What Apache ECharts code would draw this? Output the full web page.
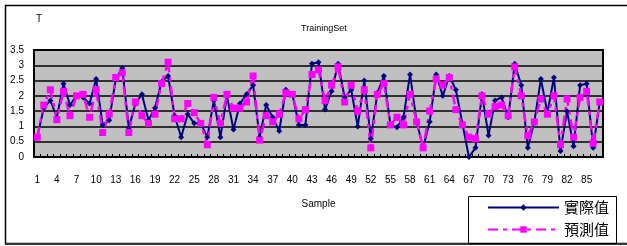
<!DOCTYPE html>
<html>
<head>
<meta charset="utf-8">
<script src="https://cdn.jsdelivr.net/npm/echarts@6/dist/echarts.min.js"></script>
<style>
  html, body { margin: 0; padding: 0; background: #fff; }
  #chart { width: 627px; height: 246px; }
</style>
</head>
<body>
<div id="chart"></div>
<script>
// 样本编号 1..87
const samples = []
for (let i = 1; i <= 87; i++) samples.push(String(i))

// 實際值
const actual = [
  0.65, 1.6, 1.85, 1.3, 2.4, 1.7, 2.0, 1.95, 1.75, 2.55,
  1.05, 1.2, 2.55, 2.9, 0.95, 1.75, 2.05, 1.2, 1.6, 2.45,
  2.65, 1.35, 0.65, 1.4, 1.1, 1.1, 0.65, 1.85, 0.65, 2.0,
  0.9, 1.75, 2.05, 2.35, 0.65, 1.7, 1.3, 0.85, 2.2, 2.05,
  1.05, 1.05, 3.05, 3.1, 1.55, 2.15, 3.05, 1.95, 2.2, 1.0,
  2.5, 0.6, 2.1, 2.65, 1.05, 0.97, 1.3, 2.7, 1.15, 0.3,
  1.15, 2.7, 2.0, 2.65, 2.2, 1.1, 0.0, 0.3, 2.05, 0.7,
  1.85, 1.95, 1.3, 3.05, 2.35, 0.3, 1.15, 2.55, 1.45, 2.6,
  0.2, 1.5, 0.35, 2.35, 2.4, 0.3, 1.8
]

// 預測值
const predicted = [
  0.65, 1.7, 2.2, 1.22, 2.15, 1.35, 2.0, 2.05, 1.3, 2.2,
  0.8, 1.4, 2.6, 2.75, 0.8, 1.8, 1.35, 1.1, 1.4, 2.4,
  3.1, 1.25, 1.25, 1.75, 1.45, 1.1, 0.4, 1.95, 1.1, 2.05,
  1.6, 1.6, 1.8, 2.65, 0.55, 1.35, 1.15, 1.4, 2.1, 2.05,
  1.25, 1.55, 2.7, 2.85, 1.85, 2.35, 2.95, 1.8, 2.35, 1.5,
  2.2, 0.3, 2.05, 2.4, 1.05, 1.3, 1.05, 2.05, 1.15, 0.3,
  1.5, 2.55, 2.35, 2.6, 1.55, 1.05, 0.65, 0.6, 2.0, 1.4,
  1.65, 1.7, 1.35, 2.95, 2.0, 0.7, 1.15, 1.9, 1.4, 2.0,
  0.4, 1.9, 0.65, 1.95, 2.15, 0.45, 1.8
]

const myChart = echarts.init(document.getElementById('chart'))

const option = {
  animation: false,
  textStyle: { fontFamily: 'Liberation Sans, Arial, sans-serif' },
  title: {
    text: 'TrainingSet',
    left: 296,
    top: 19,
    textStyle: { fontSize: 9, fontWeight: 'normal', color: '#000' }
  },
  legend: {
    orient: 'vertical',
    left: 487,
    top: 200,
    padding: 0,
    itemWidth: 71,
    itemHeight: 8,
    itemGap: 7,
    textStyle: {
      fontSize: 15,
      color: '#000',
      fontFamily: 'Noto Sans CJK TC, sans-serif'
    },
    data: ['實際值', '預測值']
  },
  graphic: [
    // 外框
    {
      type: 'polyline',
      shape: { points: [[627, 5.5], [5.5, 5.5], [5.5, 243.5], [627, 243.5]] },
      style: { stroke: '#000', lineWidth: 1.5, fill: null },
      silent: true
    },
    {
      type: 'line',
      shape: { x1: 5, y1: 244, x2: 627, y2: 244 },
      style: { stroke: '#333', lineWidth: 2 },
      silent: true
    },
    // 图例框
    {
      type: 'rect',
      shape: { x: 468.5, y: 196.5, width: 148, height: 47 },
      style: { stroke: '#000', lineWidth: 1, fill: null },
      silent: true
    }
  ],
  grid: {
    left: 34,
    right: 24,
    top: 50,
    bottom: 89,
    show: true,
    backgroundColor: '#c0c0c0',
    borderColor: '#000',
    borderWidth: 2
  },
  xAxis: {
    type: 'category',
    data: samples,
    boundaryGap: true,
    name: 'Sample',
    nameLocation: 'middle',
    nameGap: 42,
    nameTextStyle: { fontSize: 10, color: '#000' },
    axisLine: { lineStyle: { color: '#000', width: 2 } },
    axisTick: {
      show: true,
      inside: true,
      length: 3,
      interval: 0,
      lineStyle: { color: '#000', width: 1 }
    },
    axisLabel: {
      interval: 2,
      margin: 18,
      fontSize: 10,
      color: '#000'
    },
    splitLine: { show: false }
  },
  yAxis: {
    type: 'value',
    min: 0,
    max: 3.5,
    interval: 0.5,
    name: 'T',
    nameLocation: 'end',
    nameGap: 26,
    nameTextStyle: { fontSize: 10, color: '#000', align: 'left', padding: [0, 0, 0, 2] },
    axisLine: { show: true, lineStyle: { color: '#000', width: 2 } },
    axisTick: { show: false },
    axisLabel: { fontSize: 10, color: '#000', margin: 10 },
    splitLine: { show: true, lineStyle: { color: '#000', width: 1.5 } }
  },
  series: [
    {
      name: '實際值',
      type: 'line',
      data: actual,
      symbol: 'diamond',
      symbolSize: 6,
      showAllSymbol: true,
      itemStyle: { color: '#000080' },
      lineStyle: { color: '#000080', width: 2 }
    },
    {
      name: '預測值',
      type: 'line',
      data: predicted,
      symbol: 'rect',
      symbolSize: 7,
      showAllSymbol: true,
      itemStyle: { color: '#ff00ff' },
      lineStyle: { color: '#ff00ff', width: 2.5, type: [10, 5, 4, 5] }
    }
  ]
}
myChart.setOption(option)
</script>
</body>
</html>
